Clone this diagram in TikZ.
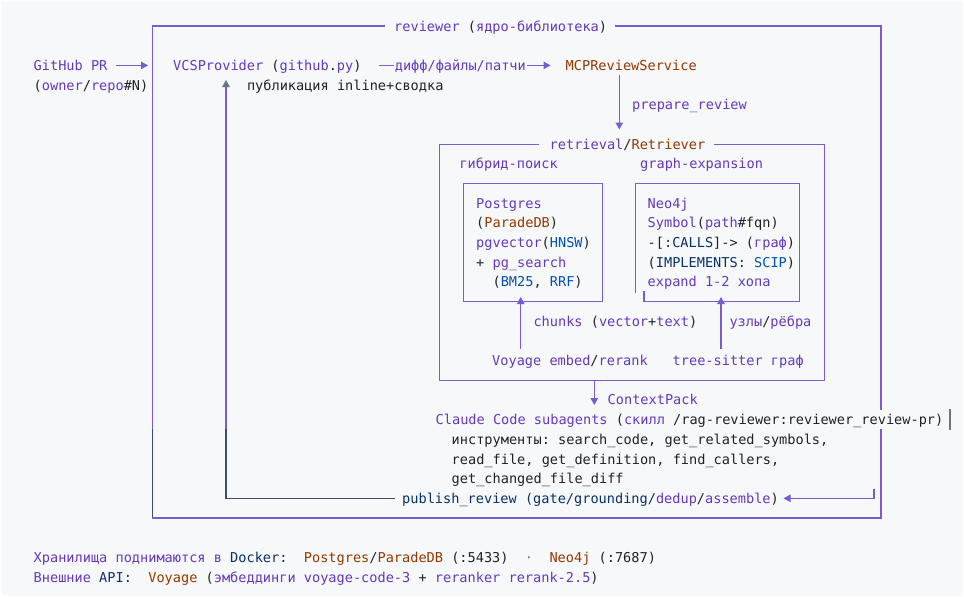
\documentclass[tikz,border=0pt]{standalone}
\usepackage{fontspec}
\setmonofont{DejaVu Sans Mono}
\usepackage{xcolor}
\usetikzlibrary{arrows.meta}

\definecolor{codebg}{HTML}{F6F8FA}
\definecolor{lnpurple}{HTML}{7A5CD0}
\definecolor{lnnavy}{HTML}{3E4C6E}
\definecolor{lngray}{HTML}{6E7781}
\definecolor{txdark}{HTML}{1F2328}
\definecolor{txpurple}{HTML}{6639BA}
\definecolor{txbrown}{HTML}{953800}
\definecolor{txblue}{HTML}{0550AE}
\definecolor{txnavy}{HTML}{0A3069}

\newcommand{\hlfn}[1]{\textcolor{txpurple}{#1}}
\newcommand{\hlvar}[1]{\textcolor{txbrown}{#1}}
\newcommand{\hlcon}[1]{\textcolor{txblue}{#1}}
\newcommand{\hlstr}[1]{\textcolor{txnavy}{#1}}

\tikzset{
	txt/.style={inner sep=0pt, anchor=west, text height=10pt, text depth=0pt,
		font=\fontsize{13.6}{16}\selectfont\ttfamily, text=txdark},
	box/.style={draw=lnpurple, line width=1.1pt, line cap=rect},
	arr/.style={draw=lnpurple, line width=1.1pt, -{Triangle[length=7pt,width=7.5pt]}},
}

\begin{document}
\begin{tikzpicture}[x=1pt, y=-1pt]
	\useasboundingbox (0,0) rectangle (964,597);
	\fill[white] (0,0) rectangle (964,597);
	\fill[codebg, rounded corners=3pt] (1.5,1.5) rectangle (962.5,595.5);
	
	% reviewer frame
	\node[txt] (core) at (394,26) {\hlfn{reviewer} (\hlfn{ядро-библиотека})};
	\draw[box] ([xshift=-9.5pt]core.west) -- (152.7,26) -- (152.7,429.4);
	\draw[box, draw=lnnavy] (152.7,429.4) -- (152.7,518);
	\draw[box] (152.7,518) -- (881,518) -- (881,429.5);
	\draw[box] ([xshift=8pt]core.east) -- (881,26) -- (881,409.8);
	\draw[box, draw=lngray] (950,409.8) -- (950,429.4);
	
	\node[txt] (pr) at (33.5,65.4) {\hlfn{GitHub PR}};
	\node[txt] (prref) at (33.5,85) {(\hlfn{owner}/\hlfn{repo}\#N)};
	\coordinate (prin) at (148,65.4);
	\draw[arr, shorten <=8.3pt] (pr) -- (prin);
	
	\node[txt] (vcs) at (173,65.4) {\hlfn{VCSProvider} (\hlfn{github}.\hlfn{py})};
	\node[txt] (mcp) at (565.5,65.4) {\hlvar{MCPReviewService}};
	\draw[arr, shorten <=17.4pt, shorten >=15pt] (vcs) -- node[txt, anchor=center, pos=0.484, fill=codebg, inner xsep=1pt, text=txpurple] {дифф/файлы/патчи} (mcp);
	
	\node[txt] (pubnote) at (246.8,85) {публикация inline+сводка};
	\coordinate (vcsback) at (226,80);
	
	\coordinate (retrin) at (619.3,129.5);
	\draw[arr, shorten <=4.5pt] (mcp.south -| retrin) -- (retrin);
	\node[txt, text=txpurple] (prep) at (632,104.7) {prepare\_review};
	
	% retrieval frame
	\node[txt] (retr) at (549.5,144.1) {\hlfn{retrieval}/\hlvar{Retriever}};
	\draw[box] ([xshift=-11.5pt]retr.west) -- (439.3,144.1) -- (439.3,380.2) -- (824.3,380.2) -- (824.3,144.1) -- ([xshift=9pt]retr.east);
	\node[txt, text=txpurple] (hyb) at (459.3,163.8) {гибрид-поиск};
	\node[txt, text=txpurple] (gexp) at (640,163.8) {graph-expansion};
	
	\draw[box] (463.3,183.4) rectangle (602.7,301.5);
	\node[txt] (pg1) at (476,203.1) {\hlfn{Postgres}};
	\node[txt] (pg2) at (476,222.8) {(\hlvar{ParadeDB})};
	\node[txt] (pg3) at (476,242.5) {\hlfn{pgvector}(\hlcon{HNSW})};
	\node[txt] (pg4) at (476,262.2) {+ \hlfn{pg\_search}};
	\node[txt] (pg5) at (492.4,281.8) {(\hlcon{BM25}, \hlcon{RRF})};
	
	\draw[box] (644,292) -- (644,301.5) -- (799.5,301.5) -- (799.5,183.4) -- (635.7,183.4) -- (635.7,292);
	\node[txt] (neo1) at (647.5,203.1) {\hlfn{Neo4j}};
	\node[txt] (neo2) at (647.5,222.8) {\hlfn{Symbol}(\hlfn{path}\#fqn)};
	\node[txt] (neo3) at (647.5,242.5) {-[\hlstr{:CALLS}]-> (\hlfn{граф})};
	\node[txt] (neo4) at (647.5,262.2) {(\hlstr{IMPLEMENTS:} \hlcon{SCIP})};
	\node[txt, text=txpurple] (neo5) at (647.5,281.8) {expand 1-2 хопа};
	
	\node[txt] (voy) at (492,360.6) {\hlfn{Voyage embed}/\hlfn{rerank}};
	\node[txt, text=txpurple] (ts) at (672.5,360.6) {tree-sitter граф};
	\coordinate (pgin) at (520.7,297);
	\coordinate (neoin) at (721,297);
	\draw[arr, shorten <=6pt] (voy.north -| pgin) -- (pgin);
	\draw[arr, shorten <=6pt] (ts.north -| neoin) -- (neoin);
	\node[txt] (chunks) at (533.3,321.2) {\hlfn{chunks} (\hlfn{vector}+\hlfn{text})};
	\node[txt] (edges) at (729.3,321.2) {\hlfn{узлы}/\hlfn{рёбра}};
	
	\coordinate (retrout) at (594.3,380.2);
	\coordinate (ctxin) at (594.3,405);
	\draw[arr] (retrout) -- (ctxin);
	\node[txt, text=txpurple] (ctx) at (607.5,399.9) {ContextPack};
	
	\node[txt] (claude) at (435.5,419.6) {\hlfn{Claude Code subagents} (\hlfn{скилл} /rag-reviewer:reviewer\_review-pr)};
	\node[txt] (tools1) at (451.5,439.3) {инструменты: search\_code, get\_related\_symbols,};
	\node[txt] (tools2) at (451.5,459) {read\_file, get\_definition, find\_callers,};
	\node[txt] (tools3) at (451.5,478.6) {get\_changed\_file\_diff};
	
	% publish back to the PR
	\node[txt] (pub) at (402,498.3) {\hlstr{publish\_review (gate/grounding/}\hlfn{dedup}/\hlfn{assemble})};
	\coordinate (clin) at (874,488.5);
	\draw[arr, shorten >=4.5pt] (clin) |- (pub);
	\coordinate (pubturn) at (226,429.4);
	\draw[box, draw=lnnavy] ([xshift=-7.7pt]pub.west) -| (pubturn);
	\draw[arr, -{Triangle[length=7pt,width=7.5pt,color=lngray]}] (pubturn) -- (vcsback);
	
	% footer
	\node[txt] (store) at (33.5,557.4) {\hlfn{Хранилища поднимаются в} \hlstr{Docker:}\ \ \hlvar{Postgres}/\hlvar{ParadeDB} (:5433)\ \ \textcolor{lngray}{·}\ \ \hlvar{Neo4j} (:7687)};
	\node[txt] (ext) at (33.5,577) {\hlfn{Внешние} \hlstr{API:}\ \ \hlvar{Voyage} (\hlfn{эмбеддинги voyage-code-3} + \hlfn{reranker rerank-2.5})};
\end{tikzpicture}
\end{document}
